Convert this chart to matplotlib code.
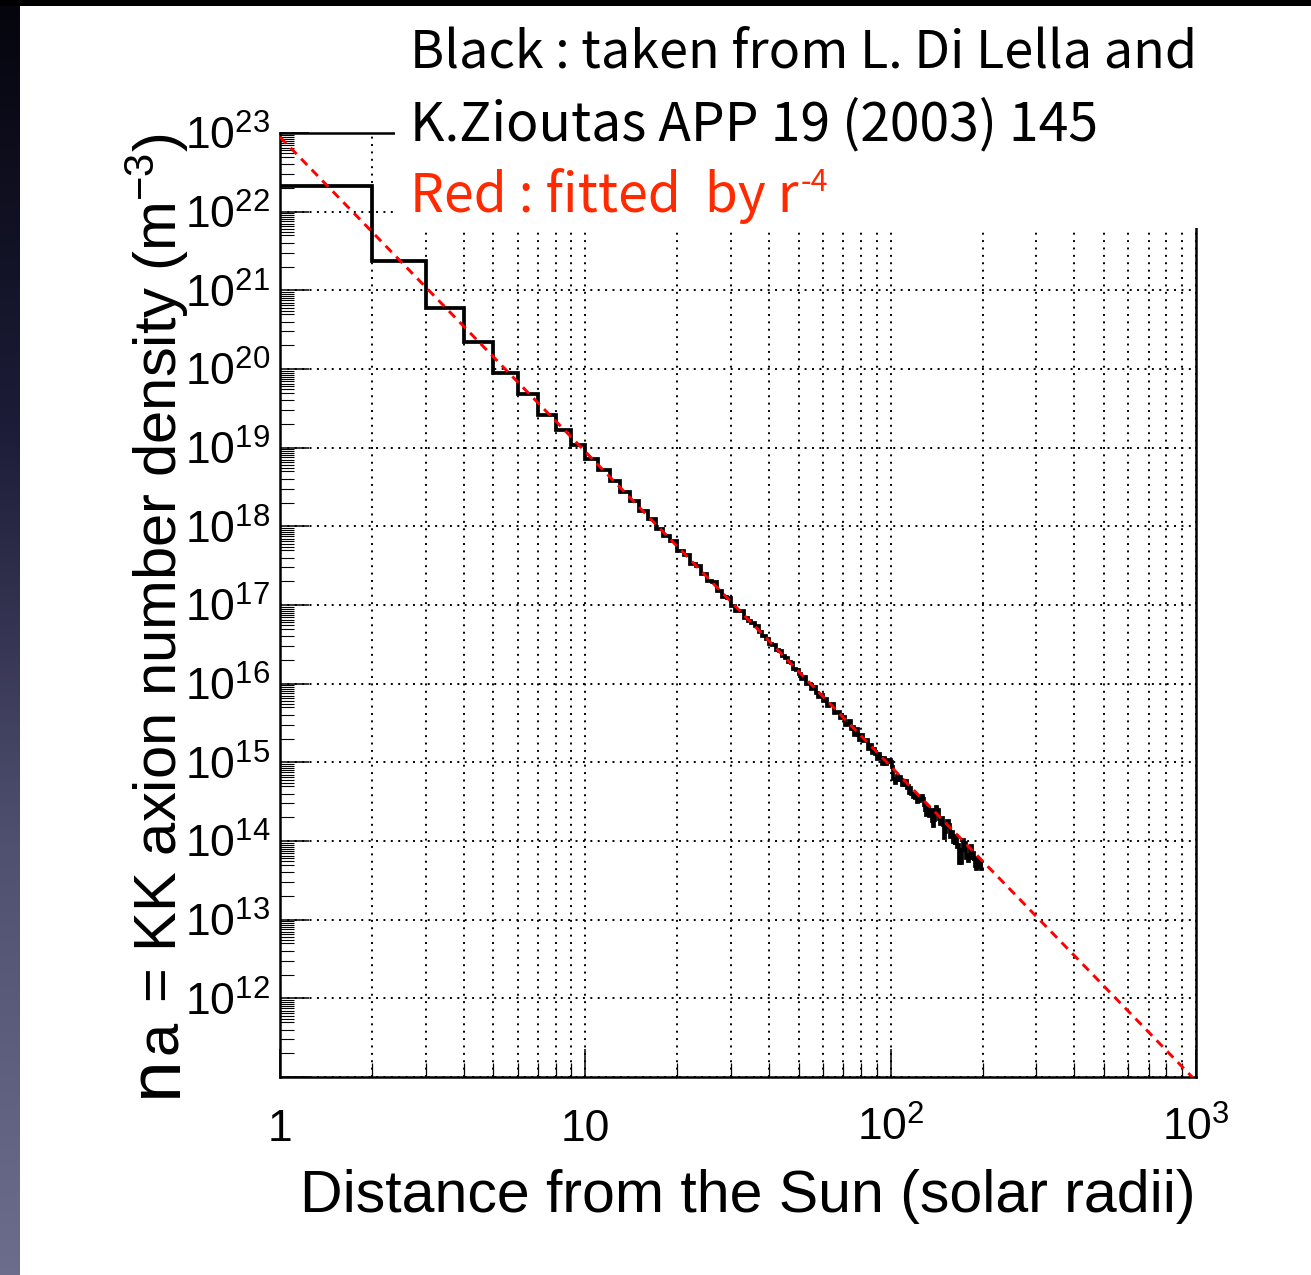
import numpy as np
import matplotlib
matplotlib.use("Agg")
import matplotlib.pyplot as plt
from matplotlib.ticker import LogLocator, NullFormatter
from matplotlib.patches import Rectangle
from matplotlib.colors import LinearSegmentedColormap

plt.rcParams['font.family'] = ['Liberation Sans', 'DejaVu Sans']
plt.rcParams['mathtext.fontset'] = 'custom'
plt.rcParams['mathtext.rm'] = 'Liberation Sans'
plt.rcParams['mathtext.it'] = 'Liberation Sans'
plt.rcParams['mathtext.default'] = 'regular'

# Histogram: bins of 1 solar radius, from 1 to 200
bin_edges = list(range(1, 201))
# log10 of the KK axion number density per bin (m^-3)
log_density = [
    22.33, 21.37, 20.77, 20.34, 19.95, 19.68, 19.42, 19.23, 19.04, 18.85,
    18.72, 18.57, 18.44, 18.32, 18.19, 18.09, 17.97, 17.88, 17.81, 17.69,
    17.63, 17.52, 17.49, 17.39, 17.30, 17.29, 17.18, 17.10, 17.09, 16.99,
    16.93, 16.92, 16.84, 16.80, 16.77, 16.73, 16.66, 16.60, 16.57, 16.51,
    16.49, 16.43, 16.41, 16.35, 16.33, 16.27, 16.26, 16.19, 16.18, 16.12,
    16.06, 16.09, 15.99, 15.99, 15.93, 15.96, 15.88, 15.83, 15.86, 15.78,
    15.81, 15.72, 15.73, 15.74, 15.63, 15.64, 15.64, 15.56, 15.57, 15.58,
    15.47, 15.49, 15.52, 15.42, 15.45, 15.35, 15.42, 15.35, 15.29, 15.35,
    15.27, 15.27, 15.29, 15.17, 15.20, 15.22, 15.12, 15.17, 15.11, 15.04,
    15.11, 15.05, 15.06, 14.98, 15.05, 14.98, 15.00, 15.03, 15.03, 15.00,
    14.94, 14.79, 14.74, 14.78, 14.82, 14.78, 14.81, 14.78, 14.71, 14.76,
    14.71, 14.76, 14.67, 14.70, 14.61, 14.68, 14.60, 14.56, 14.60, 14.55,
    14.57, 14.50, 14.53, 14.51, 14.56, 14.57, 14.57, 14.53, 14.46, 14.39,
    14.33, 14.38, 14.42, 14.32, 14.36, 14.39, 14.25, 14.19, 14.27, 14.40,
    14.43, 14.39, 14.40, 14.28, 14.22, 14.28, 14.29, 14.20, 14.10, 14.04,
    14.11, 14.18, 14.25, 14.26, 14.20, 14.12, 14.05, 14.07, 14.12, 13.99,
    14.02, 13.95, 14.02, 14.06, 13.93, 13.95, 13.80, 13.72, 13.85, 13.72,
    13.89, 13.97, 14.01, 13.92, 13.98, 13.86, 13.78, 13.82, 13.75, 13.85,
    13.78, 13.92, 13.94, 13.89, 13.79, 13.85, 13.74, 13.79, 13.68, 13.73,
    13.65, 13.77, 13.67, 13.71, 13.76, 13.68, 13.73, 13.64, 13.67,
]

# r^-4 fit (straight line in log-log), end points
fit_r = [1, 1000]
fit_n = [8.9e22, 8.9e10]

x_ticks = [1, 10, 100, 1000]
x_ticklabels = ['1', '10', '$10^{2}$', '$10^{3}$']
y_exponents = list(range(11, 24))

W, H = 1311, 1275
fig = plt.figure(figsize=(W / 100, H / 100), dpi=100)
fig.patch.set_facecolor('white')

ax = fig.add_axes([280/W, 1 - 1077/H, 916/W, 944/H])
ax.set_xscale('log')
ax.set_yscale('log')
ax.set_xlim(1, 1000)
ax.set_ylim(1e11, 1e23)

# histogram and fit
ax.stairs(10 ** np.array(log_density), bin_edges, baseline=None,
          color='black', lw=2.7, zorder=3)
ax.plot(fit_r, fit_n, color='#ff0000', lw=2.1, dashes=(3.0, 2.2), zorder=4)

# ticks
ax.set_xticks(x_ticks)
ax.set_xticklabels(x_ticklabels)
ax.xaxis.set_minor_locator(LogLocator(base=10, subs=[2, 3, 4, 5, 6, 7, 8, 9], numticks=50))
ax.xaxis.set_minor_formatter(NullFormatter())
y_vals = [10.0 ** e for e in y_exponents]
ax.set_yticks(y_vals)
ax.set_yticklabels([''] + ['$10^{%d}$' % e for e in y_exponents[1:]])
ax.yaxis.set_minor_locator(LogLocator(base=10, subs=[2, 3, 4, 5, 5.5, 6, 6.5, 7, 7.5, 8, 8.5, 9, 9.5],
                                      numticks=200))
ax.yaxis.set_minor_formatter(NullFormatter())

ax.tick_params(axis='both', which='both', direction='in', top=False, right=False,
               width=1.1, labelsize=32)
ax.tick_params(axis='y', which='major', length=21, pad=7)
ax.tick_params(axis='y', which='minor', length=10, width=0.8)
ax.tick_params(axis='x', which='major', length=20, pad=46)
ax.tick_params(axis='x', which='minor', length=10, width=0.9)
for lab in ax.get_xticklabels():
    lab.set_verticalalignment('baseline')

for sp in ax.spines.values():
    sp.set_linewidth(1.8)

ax.grid(True, which='both', axis='x', color='black', lw=1.4, ls=(0, (1, 2.8)))
ax.grid(True, which='major', axis='y', color='black', lw=1.4, ls=(0, (1, 2.8)))
ax.set_axisbelow(True)

ax.set_xlabel('Distance from the Sun (solar radii)', fontsize=42.5)
ax.xaxis.set_label_coords(0.511, -0.097)

# y title: big "n", then "a", then the rest, all on one rotated baseline
ylab_kw = dict(rotation=90, rotation_mode='anchor', ha='left', va='baseline')
fig.text(176/W, 1 - 1097/H, 'n', fontsize=54, **ylab_kw)
fig.text(177/W, 1 - 1054/H, 'a', fontsize=43, **ylab_kw)
fig.text(177/W, 1 - 1003/H, '= KK axion number density (m$^{-3}$)', fontsize=43, **ylab_kw)

# white box behind the notes at the top
fig.patches.append(Rectangle((395/W, 1 - 228/H), 1, 228/H,
                             transform=fig.transFigure, facecolor='white',
                             edgecolor='none', zorder=5))

note_font = ['Noto Sans CJK JP', 'DejaVu Sans']
fig.text(410/W, 1 - 68/H, 'Black : taken from L. Di Lella and',
         fontsize=37.5, family=note_font, va='baseline', zorder=6)
fig.text(410/W, 1 - 140/H, 'K.Zioutas APP 19 (2003) 145',
         fontsize=38.5, family=note_font, va='baseline', zorder=6)
fig.text(410/W, 1 - 212/H, 'Red : fitted  by r',
         fontsize=38.5, family=note_font, va='baseline', color='#ff2a00', zorder=6)
fig.text(801/W, 1 - 191/H, '-4',
         fontsize=22, family=note_font, va='baseline', color='#ff2a00', zorder=6)

# dark slide edges (left and top)
edge_ax = fig.add_axes([0, 0, 20/W, 1], zorder=10)
edge_cmap = LinearSegmentedColormap.from_list('edge', ['#05050d', '#1c1c38', '#505070', '#6c6c8c'])
edge_ax.imshow(np.linspace(0, 1, 256).reshape(-1, 1), aspect='auto', cmap=edge_cmap)
edge_ax.axis('off')
fig.patches.append(Rectangle((0, 1 - 6/H), 1, 6/H, transform=fig.transFigure,
                             facecolor='black', edgecolor='none', zorder=11))

fig.savefig('out.png', dpi=100, facecolor='white')
